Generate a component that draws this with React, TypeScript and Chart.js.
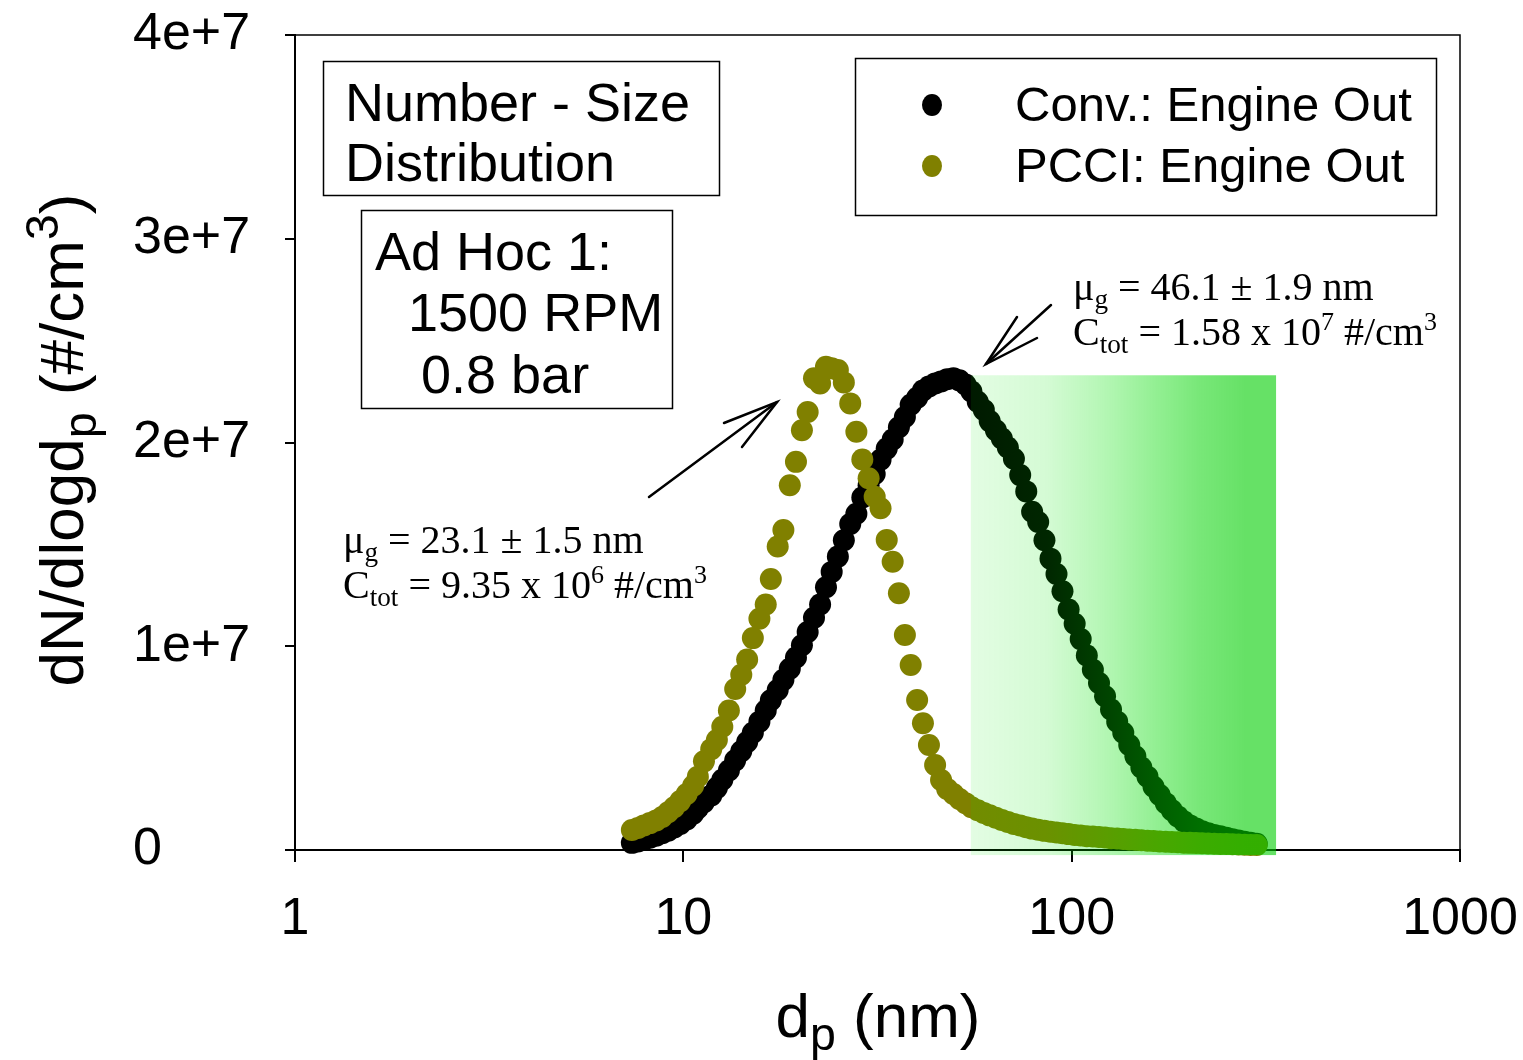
import React, { useEffect, useRef } from "react";
import { Chart, registerables } from "chart.js";

Chart.register(...registerables);

// SMPS channel mid-point diameters (nm)
const diameters = [
  7.37, 7.64, 7.91, 8.2, 8.51, 8.82, 9.14, 9.47, 9.82, 10.2,
  10.6, 10.9, 11.3, 11.8, 12.2, 12.6, 13.1, 13.6, 14.1, 14.6,
  15.1, 15.7, 16.3, 16.8, 17.5, 18.1, 18.8, 19.5, 20.2, 20.9,
  21.7, 22.5, 23.3, 24.1, 25.0, 25.9, 26.9, 27.9, 28.9, 30.0,
  31.1, 32.2, 33.4, 34.6, 35.9, 37.2, 38.5, 40.0, 41.4, 42.9,
  44.5, 46.1, 47.8, 49.6, 51.4, 53.3, 55.2, 57.3, 59.4, 61.5,
  63.8, 66.1, 68.5, 71.0, 73.7, 76.4, 79.1, 82.0, 85.1, 88.2,
  91.4, 94.7, 98.2, 101.8, 105.5, 109.4, 113.4, 117.6, 121.9, 126.3,
  131.0, 135.8, 140.7, 145.9, 151.2, 156.8, 162.5, 168.5, 174.7, 181.1,
  187.7, 194.6, 201.7, 209.1, 216.7, 224.7, 232.9, 241.4, 250.3, 259.5,
  269.0, 278.8, 289.0, 299.6,
];

// dN/dlogdp in units of 1e6 #/cm3
const convValues = [
  0.35, 0.42, 0.5, 0.6, 0.7, 0.82, 0.95, 1.1, 1.28, 1.5,
  1.78, 2.05, 2.35, 2.68, 3.05, 3.45, 3.9, 4.4, 4.85, 5.3,
  5.75, 6.3, 6.85, 7.35, 7.85, 8.35, 8.9, 9.45, 10.05, 10.7,
  11.4, 12.05, 12.9, 13.65, 14.4, 15.2, 16.0, 16.5, 17.3, 17.9,
  18.45, 19.15, 19.7, 20.15, 20.75, 21.25, 21.85, 22.2, 22.55, 22.75,
  22.9, 23.0, 23.1, 23.15, 23.05, 22.85, 22.5, 22.0, 21.6, 21.05,
  20.6, 20.2, 19.75, 19.2, 18.4, 17.6, 16.6, 16.1, 15.2, 14.3,
  13.55, 12.7, 11.8, 11.1, 10.35, 9.55, 8.85, 8.2, 7.55, 6.9,
  6.3, 5.75, 5.15, 4.6, 4.05, 3.6, 3.1, 2.7, 2.3, 1.95,
  1.65, 1.4, 1.2, 1.05, 0.92, 0.82, 0.74, 0.67, 0.6, 0.53,
  0.47, 0.41, 0.36, 0.31,
];

const pcciValues = [
  0.98, 1.08, 1.2, 1.32, 1.45, 1.62, 1.85, 2.1, 2.4, 2.75,
  3.15, 3.6, 4.35, 4.95, 5.4, 6.05, 6.85, 7.9, 8.6, 9.35,
  10.4, 11.35, 12.05, 13.3, 14.9, 15.7, 17.9, 19.05, 20.6, 21.5,
  23.15, 22.9, 23.72, 23.65, 23.56, 22.95, 21.92, 20.53, 19.17, 18.25,
  17.34, 16.77, 15.22, 14.15, 12.6, 10.55, 9.08, 7.36, 6.22, 5.15,
  4.17, 3.44, 3.0, 2.75, 2.5, 2.3, 2.1, 1.95, 1.82, 1.7,
  1.58, 1.47, 1.37, 1.28, 1.2, 1.12, 1.05, 0.99, 0.94, 0.9,
  0.86, 0.82, 0.78, 0.74, 0.71, 0.68, 0.66, 0.64, 0.61, 0.58,
  0.56, 0.54, 0.52, 0.5, 0.48, 0.46, 0.44, 0.42, 0.41, 0.39,
  0.38, 0.36, 0.35, 0.34, 0.33, 0.32, 0.31, 0.3, 0.29, 0.28,
  0.27, 0.26, 0.25, 0.25,
];

const valueUnit = 1e6;
const seriesLabels = ["Conv.: Engine Out", "PCCI: Engine Out"];
const seriesColors = ["#000000", "#808000"];
const xTicks = [1, 10, 100, 1000];
const yTicks = [0, 1e7, 2e7, 3e7, 4e7];
const yTickLabels = ["0", "1e+7", "2e+7", "3e+7", "4e+7"];
// shaded band (nm, #/cm3)
const shadeX = [55, 336];
const shadeY = [-2.5e5, 2.33e7];

const SANS = "'Liberation Sans', Arial, sans-serif";
const SERIF = "'Liberation Serif', 'Times New Roman', serif";

type Seg = { t: string; s?: number; dy?: number };

function richWidth(ctx: CanvasRenderingContext2D, segs: Seg[], size: number, family: string) {
  let w = 0;
  for (const g of segs) {
    ctx.font = `${size * (g.s ?? 1)}px ${family}`;
    w += ctx.measureText(g.t).width;
  }
  return w;
}

function drawRich(
  ctx: CanvasRenderingContext2D,
  segs: Seg[],
  x: number,
  y: number,
  size: number,
  family: string,
  align: "left" | "center" = "left"
) {
  const w = richWidth(ctx, segs, size, family);
  let cx = align === "center" ? x - w / 2 : x;
  ctx.textAlign = "left";
  ctx.textBaseline = "alphabetic";
  for (const g of segs) {
    ctx.font = `${size * (g.s ?? 1)}px ${family}`;
    ctx.fillText(g.t, cx, y + (g.dy ?? 0));
    cx += ctx.measureText(g.t).width;
  }
}

function line(ctx: CanvasRenderingContext2D, pts: number[][]) {
  ctx.beginPath();
  ctx.moveTo(pts[0][0], pts[0][1]);
  for (let i = 1; i < pts.length; i++) ctx.lineTo(pts[i][0], pts[i][1]);
  ctx.stroke();
}

const overlayPlugin = {
  id: "overlay",
  afterDraw(chart: any) {
    const ctx: CanvasRenderingContext2D = chart.ctx;
    const { left, right, top, bottom } = chart.chartArea;
    const xs = chart.scales.x;
    const ys = chart.scales.y;
    ctx.save();

    // shaded gradient band over the data
    const gx0 = xs.getPixelForValue(shadeX[0]);
    const gx1 = xs.getPixelForValue(shadeX[1]);
    const gy0 = ys.getPixelForValue(shadeY[1]);
    const gy1 = ys.getPixelForValue(shadeY[0]);
    const grad = ctx.createLinearGradient(gx0, 0, gx1, 0);
    grad.addColorStop(0, "rgba(0,235,0,0.11)");
    grad.addColorStop(0.25, "rgba(0,230,0,0.17)");
    grad.addColorStop(0.45, "rgba(0,225,0,0.30)");
    grad.addColorStop(0.6, "rgba(0,218,0,0.42)");
    grad.addColorStop(0.75, "rgba(0,210,0,0.53)");
    grad.addColorStop(0.9, "rgba(0,205,0,0.6)");
    grad.addColorStop(1, "rgba(0,205,0,0.6)");
    ctx.fillStyle = grad;
    ctx.fillRect(gx0, gy0, gx1 - gx0, gy1 - gy0);

    // top & right frame
    ctx.strokeStyle = "#000";
    ctx.lineWidth = 1.5;
    line(ctx, [[left, top], [right, top], [right, bottom]]);

    ctx.fillStyle = "#000";
    // info boxes
    ctx.lineWidth = 1.5;
    ctx.strokeRect(323.5, 61.5, 396, 134);
    drawRich(ctx, [{ t: "Number - Size" }], 345, 121, 54, SANS);
    drawRich(ctx, [{ t: "Distribution" }], 345, 181, 54, SANS);

    ctx.strokeRect(361.5, 210.5, 311, 198);
    drawRich(ctx, [{ t: "Ad Hoc 1:" }], 375, 270, 54, SANS);
    drawRich(ctx, [{ t: "1500 RPM" }], 408, 331, 54, SANS);
    drawRich(ctx, [{ t: "0.8 bar" }], 421, 393, 54, SANS);

    // legend
    ctx.strokeRect(855.5, 58.5, 581, 157);
    const legY = [105, 166];
    seriesLabels.forEach((lab, i) => {
      ctx.fillStyle = seriesColors[i];
      ctx.beginPath();
      ctx.ellipse(932, legY[i], 10, 11, 0, 0, Math.PI * 2);
      ctx.fill();
      ctx.fillStyle = "#000";
      ctx.font = `49px ${SANS}`;
      ctx.textAlign = "left";
      ctx.textBaseline = "middle";
      ctx.fillText(lab, 1015, legY[i] + 2);
    });

    // annotations
    ctx.fillStyle = "#000";
    const fs = 40;
    drawRich(ctx, [{ t: "\u03bc" }, { t: "g", s: 0.68, dy: 8 }, { t: " = 46.1 \u00b1 1.9 nm" }], 1073, 300, fs, SERIF);
    drawRich(
      ctx,
      [{ t: "C" }, { t: "tot", s: 0.68, dy: 8 }, { t: " = 1.58 x 10" }, { t: "7", s: 0.65, dy: -15 }, { t: " #/cm" }, { t: "3", s: 0.65, dy: -15 }],
      1073, 345, fs, SERIF
    );
    drawRich(ctx, [{ t: "\u03bc" }, { t: "g", s: 0.68, dy: 8 }, { t: " = 23.1 \u00b1 1.5 nm" }], 343, 553, fs, SERIF);
    drawRich(
      ctx,
      [{ t: "C" }, { t: "tot", s: 0.68, dy: 8 }, { t: " = 9.35 x 10" }, { t: "6", s: 0.65, dy: -15 }, { t: " #/cm" }, { t: "3", s: 0.65, dy: -15 }],
      343, 598, fs, SERIF
    );

    // arrows
    ctx.strokeStyle = "#000";
    ctx.lineWidth = 2.5;
    ctx.lineCap = "round";
    line(ctx, [[649, 497], [777, 402]]);
    line(ctx, [[724, 423], [777, 402], [742, 447]]);
    line(ctx, [[1051, 305], [986, 364]]);
    line(ctx, [[1017, 317], [986, 364], [1037, 338]]);

    // axis titles
    ctx.fillStyle = "#000";
    drawRich(ctx, [{ t: "d" }, { t: "p", s: 0.75, dy: 13 }, { t: " (nm)" }], 878, 1037, 62, SANS, "center");

    ctx.save();
    ctx.translate(83, 440);
    ctx.rotate(-Math.PI / 2);
    drawRich(
      ctx,
      [{ t: "dN/dlogd" }, { t: "p", s: 0.75, dy: 13 }, { t: " (#/cm" }, { t: "3", s: 0.75, dy: -25 }, { t: ")" }],
      0, 0, 62, SANS, "center"
    );
    ctx.restore();

    ctx.restore();
  },
};

export default function App() {
  const ref = useRef<HTMLCanvasElement | null>(null);

  useEffect(() => {
    if (!ref.current) return;
    const mk = (vals: number[]) => diameters.map((d, i) => ({ x: d, y: vals[i] * valueUnit }));
    const chart = new Chart(ref.current, {
      type: "scatter",
      data: {
        datasets: [
          {
            label: seriesLabels[1],
            data: mk(pcciValues),
            backgroundColor: seriesColors[1],
            borderWidth: 0,
            pointRadius: 11,
            pointHoverRadius: 11,
            clip: false,
          } as any,
          {
            label: seriesLabels[0],
            data: mk(convValues),
            backgroundColor: seriesColors[0],
            borderWidth: 0,
            pointRadius: 11,
            pointHoverRadius: 11,
            clip: false,
          } as any,
        ],
      },
      options: {
        responsive: false,
        animation: false,
        events: [],
        layout: { padding: { top: 35, right: 63, left: 133, bottom: 0 } },
        plugins: { legend: { display: false }, tooltip: { enabled: false }, title: { display: false } },
        scales: {
          x: {
            type: "logarithmic",
            min: 1,
            max: 1000,
            afterBuildTicks: (s: any) => {
              s.ticks = xTicks.map((v) => ({ value: v, major: true }));
            },
            afterFit: (s: any) => {
              s.height = 210;
              s.paddingLeft = 0;
              s.paddingRight = 0;
            },
            ticks: {
              callback: (v: any) => String(v),
              font: { family: SANS, size: 52 },
              color: "#000",
              padding: 26,
              autoSkip: false,
              maxRotation: 0,
              minRotation: 0,
            },
            grid: { drawOnChartArea: false, drawTicks: true, tickLength: 12, color: "#000", lineWidth: 2 },
            border: { display: true, color: "#000", width: 2 },
          },
          y: {
            type: "linear",
            min: 0,
            max: 4e7,
            afterBuildTicks: (s: any) => {
              s.ticks = yTicks.map((v) => ({ value: v }));
            },
            afterFit: (s: any) => {
              s.width = 162;
              s.paddingTop = 0;
              s.paddingBottom = 0;
            },
            ticks: {
              callback: (v: any) => yTickLabels[yTicks.indexOf(Number(v))] ?? "",
              font: { family: SANS, size: 52 },
              color: "#000",
              padding: 0,
              crossAlign: "far",
            },
            grid: { drawOnChartArea: false, drawTicks: true, tickLength: 10, color: "#000", lineWidth: 2 },
            border: { display: true, color: "#000", width: 2 },
          },
        },
      } as any,
      plugins: [overlayPlugin],
    });
    return () => chart.destroy();
  }, []);

  return (
    <div style={{ position: "absolute", left: 0, top: 0, width: 1523, height: 1060, background: "#fff" }}>
      <canvas ref={ref} width={1523} height={1060} style={{ display: "block" }} />
    </div>
  );
}
